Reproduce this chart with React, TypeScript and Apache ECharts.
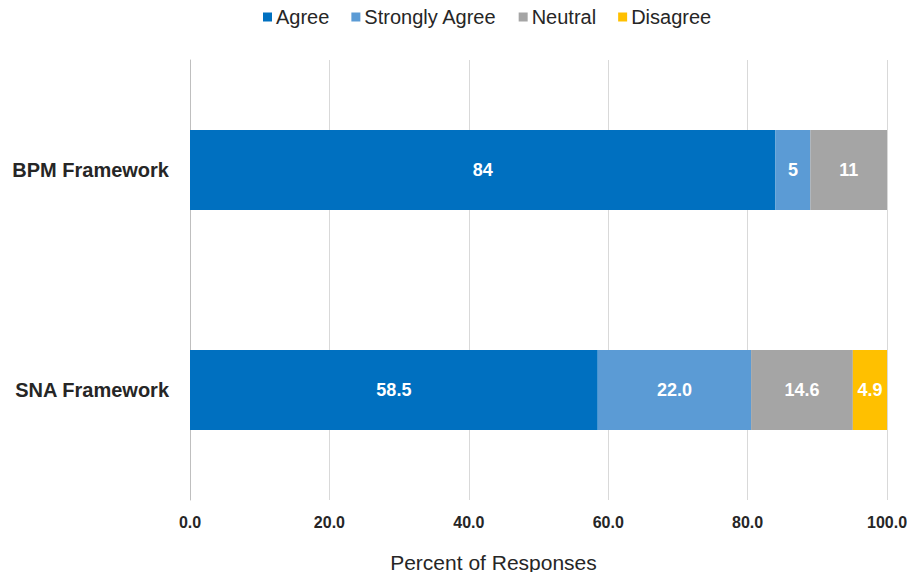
import React, { useEffect, useRef } from "react";
import * as echarts from "echarts";

const categories = ["BPM Framework", "SNA Framework"];
const labelDecimals = [0, 1];
const seriesNames = ["Agree", "Strongly Agree", "Neutral", "Disagree"];
const agree = [84, 58.5];
const stronglyAgree = [5, 22.0];
const neutral = [11, 14.6];
const disagree = [0, 4.9];
const colors = ["#0070C0", "#5B9BD5", "#A5A5A5", "#FFC000"];
const xTicks = { min: 0, max: 100, interval: 20 };

const FONT = "'Liberation Sans Narrow', 'Liberation Sans', Arial, sans-serif";
const SANS = "'Liberation Sans', Arial, sans-serif";

export default function App() {
  const ref = useRef<HTMLDivElement>(null);
  useEffect(() => {
    if (!ref.current) return;
    const chart = echarts.init(ref.current, null, { renderer: "svg" });
    const values = [agree, stronglyAgree, neutral, disagree];
    chart.setOption({
      animation: false,
      legend: {
        top: 2,
        left: 258,
        itemWidth: 9,
        itemHeight: 9,
        itemGap: 22,
        icon: "rect",
        textStyle: { fontFamily: SANS, fontSize: 20, color: "#262626", padding: [0, 0, 0, -1] },
        data: seriesNames,
      },
      grid: { left: 190, right: 28, top: 60, bottom: 80, containLabel: false },
      xAxis: {
        type: "value",
        min: xTicks.min,
        max: xTicks.max,
        interval: xTicks.interval,
        name: "Percent of Responses",
        nameLocation: "middle",
        nameGap: 52,
        nameTextStyle: { fontFamily: FONT, fontSize: 21, color: "#262626", padding: [0, 90, 0, 0] },
        axisLine: { show: false },
        axisTick: { show: false },
        splitLine: { show: true, lineStyle: { color: "#D9D9D9", width: 1 } },
        axisLabel: {
          margin: 14,
          fontFamily: FONT,
          fontSize: 16,
          fontWeight: "bold",
          color: "#262626",
          formatter: (v: number) => v.toFixed(1),
        },
      },
      yAxis: {
        type: "category",
        inverse: true,
        data: categories,
        axisLine: { show: true, lineStyle: { color: "#BFBFBF" } },
        axisTick: { show: false },
        axisLabel: {
          margin: 21,
          fontFamily: SANS,
          fontSize: 20,
          fontWeight: "bold",
          color: "#262626",
        },
      },
      series: seriesNames.map((name, i) => ({
        name,
        type: "bar",
        stack: "total",
        barWidth: 80,
        itemStyle: { color: colors[i] },
        label: {
          show: true,
          position: "inside",
          color: "#FFFFFF",
          fontFamily: FONT,
          fontSize: 18,
          fontWeight: "bold",
          formatter: (p: any) => (p.value ? Number(p.value).toFixed(labelDecimals[p.dataIndex]) : ""),
        },
        data: values[i],
      })),
    });
    return () => chart.dispose();
  }, []);
  return <div ref={ref} style={{ width: 915, height: 580, margin: -8 }} />;
}
